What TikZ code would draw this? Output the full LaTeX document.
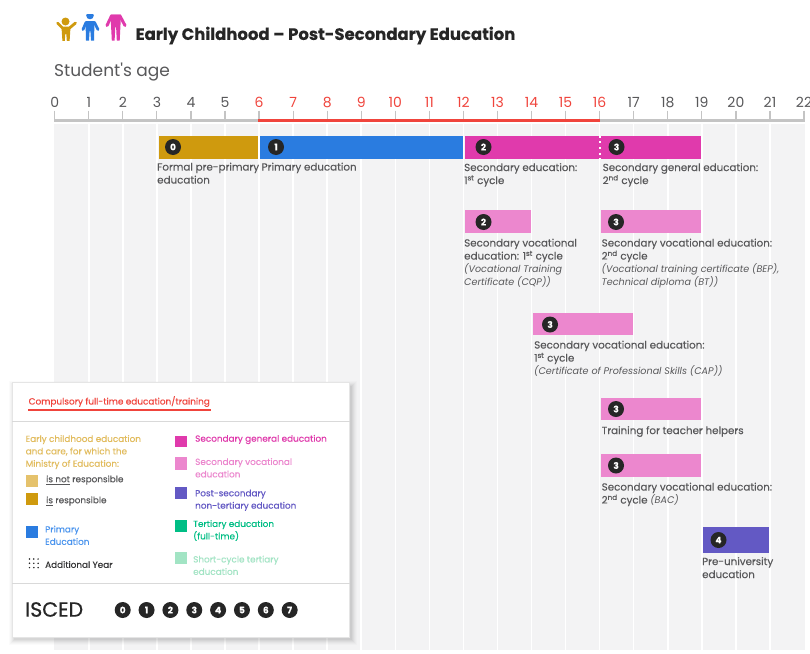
\documentclass[tikz,border=0pt]{standalone}
\usepackage{fontspec}
\setmainfont[FakeBold=0.25]{Poppins}
\newfontfamily\plainfont{Poppins}
\newfontfamily\heavyfont[FakeBold=0.7]{Poppins}
\usetikzlibrary{calc}
\definecolor{cgold}{HTML}{CF9A0E}
\definecolor{clgold}{HTML}{E5C26C}
\definecolor{cblue}{HTML}{2A7CE0}
\definecolor{clblue}{HTML}{4A94EE}
\definecolor{cmag}{HTML}{E03AAC}
\definecolor{cpink}{HTML}{EC87CE}
\definecolor{cviolet}{HTML}{6359C4}
\definecolor{cred}{HTML}{F0443C}
\definecolor{cgreen}{HTML}{00BE85}
\definecolor{clgreen}{HTML}{A2E4C4}
\definecolor{ctext}{HTML}{58585A}
\definecolor{cdark}{HTML}{262626}
\definecolor{cbg}{HTML}{F3F3F4}
\definecolor{caxis}{HTML}{C4C4C4}
\newcommand{\nt}[1]{{\fontsize{9.6}{12.5}\selectfont\plainfont\itshape #1}}
\tikzset{
  x=1pt,y=-1pt,
  badge/.style={circle,fill=cdark,text=white,minimum size=16pt,inner sep=0pt,font=\fontsize{9}{9}\selectfont\bfseries},
  lbl/.style={anchor=north west,inner sep=0pt,align=left,text=ctext,font=\fontsize{10.3}{13}\selectfont},
  leg/.style={anchor=north west,inner sep=0pt,align=left,font=\fontsize{8.85}{12.4}\selectfont},
  tickmark/.style={caxis,line width=1.2pt},
  agenum/.style={inner sep=0pt,font=\fontsize{14}{14}\selectfont\plainfont}
}
\begin{document}
\begin{tikzpicture}
\useasboundingbox (0,0) rectangle (810,653);
\fill[white] (0,0) rectangle (810,653);
% background
\fill[cbg] (54,124) rectangle (805,650);
\foreach \n in {1,...,21}{\draw[white,line width=1.5pt] ({54.7+34.06*\n},124) -- ({54.7+34.06*\n},650);}
% axis
\foreach \n in {0,...,22}{
  \draw[tickmark] ({54.7+34.06*\n},110.5) -- ({54.7+34.06*\n},120.5);
}
\draw[caxis,line width=2.2pt] (54.2,120.5) -- (804.8,120.5);
\draw[cred,line width=3.4pt] (258.3,120.5) -- (599.7,120.5);
\foreach \n in {0,...,5,17,18,19,20,21,22}{
  \node[agenum,text=ctext] (age\n) at ({54.7+34.06*\n},102) {\n};
}
\foreach \n in {6,...,16}{
  \node[agenum,text=cred] (age\n) at ({54.7+34.06*\n},102) {\n};
}
% people icons
\fill[cgold] (65.5,21.5) circle (4);
\draw[cgold,line width=2.8pt,line cap=round,line join=round] (57.5,23) -- (62.5,28) -- (69.5,28) -- (75.5,23);
\fill[cgold] (61.5,27) -- (70.5,27) -- (69.6,40.8) -- (66.8,40.8) -- (66.3,34) -- (65.3,34) -- (64.8,40.8) -- (62.4,40.8) -- cycle;
\begin{scope}
\clip (78,14) rectangle (102,42);
\fill[cblue] (90,15.5) circle (3.8);
\end{scope}
\draw[cblue,line width=2.8pt,line cap=round,line join=round] (83,29.5) -- (86,22.5) -- (94.5,22.5) -- (98,29.5);
\fill[cblue] (85.5,21.5) -- (94.5,21.5) -- (94,40.5) -- (91,40.5) -- (90.4,31) -- (89.6,31) -- (89,40.5) -- (86,40.5) -- cycle;
\draw[cmag,line width=3pt,line cap=round,line join=round] (107,25.5) -- (111.5,16) -- (120,16) -- (125,25.5);
\fill[cmag] (110.5,14.6) -- (121,14.6) -- (119.7,40.5) -- (116.8,40.5) -- (116.1,27) -- (115.3,27) -- (114.6,40.5) -- (111.8,40.5) -- cycle;
% title
\node[anchor=west,inner sep=0pt,text=cdark,font=\fontsize{16.5}{18}\selectfont\bfseries] (title) at (135.5,35.5) {Early Childhood -- Post-Secondary Education};
\node[anchor=west,inner sep=0pt,text=ctext,font=\fontsize{17}{18}\selectfont\plainfont] (age) at (54,72.5) {Student's age};
% bars
\fill[cgold] (158.5,135.5) rectangle (258,158.5);
\fill[cblue] (260.3,135.5) rectangle (462.8,158.5);
\fill[cmag] (464.5,135.5) rectangle (701,158.5);
\draw[white,line width=1.8pt,dash pattern=on 2.2pt off 3.5pt] (600,135.5) -- (600,158.5);
\fill[cpink] (464.5,210) rectangle (530.7,233);
\fill[cpink] (600.6,210) rectangle (701,233);
\fill[cpink] (532.7,312.7) rectangle (632.7,335.3);
\fill[cpink] (600.7,397.7) rectangle (700.7,420.3);
\fill[cpink] (601.3,454) rectangle (700.7,477);
\fill[cviolet] (702.7,526.7) rectangle (769,553);
% badges
\node[badge] (b0) at (173,147) {0};
\node[badge] (b1) at (276,147) {1};
\node[badge] (b2) at (483.5,147) {2};
\node[badge] (b3) at (616.5,147) {3};
\node[badge] (b2v) at (483.5,222) {2};
\node[badge] (b3v) at (616,222) {3};
\node[badge] (b3c) at (550,324.5) {3};
\node[badge] (b3t) at (616,409) {3};
\node[badge] (b3b) at (616,465.5) {3};
\node[badge] (b4) at (718.5,540) {4};
% labels
\node[lbl] (l0) at (157,162.5) {Formal pre-primary\\education};
\node[lbl] (l1) at (261.5,162.5) {Primary education};
\node[lbl] (l2) at (464,163) {Secondary education:\\1\textsuperscript{st} cycle};
\node[lbl] (l3) at (602.5,163) {Secondary general education:\\2\textsuperscript{nd} cycle};
\node[lbl] (l4) at (464,238.5) {Secondary vocational\\education: 1\textsuperscript{st} cycle\\\nt{(Vocational Training}\\\nt{Certificate (CQP))}};
\node[lbl] (l5) at (601.5,238.5) {Secondary vocational education:\\2\textsuperscript{nd} cycle\\\nt{(Vocational training certificate (BEP),}\\\nt{Technical diploma (BT))}};
\node[lbl] (l6) at (534,340.5) {Secondary vocational education:\\1\textsuperscript{st} cycle\\\nt{(Certificate of Professional Skills (CAP))}};
\node[lbl] (l7) at (601.5,426) {Training for teacher helpers};
\node[lbl] (l8) at (601.5,482.5) {Secondary vocational education:\\2\textsuperscript{nd} cycle \nt{(BAC)}};
\node[lbl] (l9) at (702,557) {Pre-university\\education};
% legend panel
\foreach \e/\o in {5/.015,4/.02,3/.025,2/.03,1/.035,0/.04}{
  \fill[black,opacity=\o] ({12-\e+2},{382.5-\e+3}) rectangle ({349.5+\e+2},{637+\e+3});
}
\draw[black!10,fill=white,line width=.6pt] (12,382.5) rectangle (349.5,637);
\draw[black!15,line width=.7pt] (12,421) -- (349.5,421);
\draw[black!15,line width=.7pt] (12,583) -- (349.5,583);
\node[anchor=west,inner sep=0pt,text=cred,font=\fontsize{8.9}{10}\selectfont] (comp) at (28.5,401.5) {Compulsory full-time education/training};
\draw[cred,line width=1.2pt] (28,410) -- (211,410);
\node[leg,text=clgold!85!cgold] (le) at (25.5,435) {Early childhood education\\and care, for which the\\Ministry of Education:};
\fill[clgold] (25.7,475) rectangle (37.7,487);
\node[leg,anchor=west,text=ctext] (ln) at (46,480) {\underline{is not} responsible};
\fill[cgold] (25.7,492.5) rectangle (37.7,505);
\node[leg,anchor=west,text=ctext] (lr) at (46,501) {\underline{is} responsible};
\fill[cblue] (25.7,526) rectangle (37.7,537.5);
\node[leg,text=clblue] (lp) at (45,525.5) {Primary\\Education};
\foreach \i in {0,1,2}{\foreach \j in {0,1,2}{\fill[cdark] ({29.5+4.3*\i},{559+4.3*\j}) circle (.85);}}
\node[leg,anchor=west,text=ctext!60!black] (la) at (45,564.5) {Additional Year};
\fill[cmag] (174.5,435.5) rectangle (186.5,447);
\node[leg,anchor=west,text=cmag] (lg) at (195,439.5) {Secondary general education};
\fill[cpink] (174.5,457) rectangle (186.5,469.5);
\node[leg,text=cpink] (lv) at (195,458) {Secondary vocational\\education};
\fill[cviolet] (174.5,486.7) rectangle (186.5,499);
\node[leg,text=cviolet] (lps) at (195,489.5) {Post-secondary\\non-tertiary education};
\fill[cgreen] (175,520) rectangle (187,532);
\node[leg,text=cgreen] (lt) at (193,520) {Tertiary education\\(full-time)};
\fill[clgreen] (175,552) rectangle (187,564);
\node[leg,text=clgreen] (ls) at (193,555.5) {Short-cycle tertiary\\education};
\node[anchor=west,inner sep=0pt,text=cdark,font=\fontsize{20.5}{20}\selectfont\heavyfont] (isced) at (25,609.5) {ISCED};
\foreach \n in {0,...,7}{
  \node[badge] (k\n) at ({122.7+23.85*\n},610) {\n};
}
\end{tikzpicture}
\end{document}
